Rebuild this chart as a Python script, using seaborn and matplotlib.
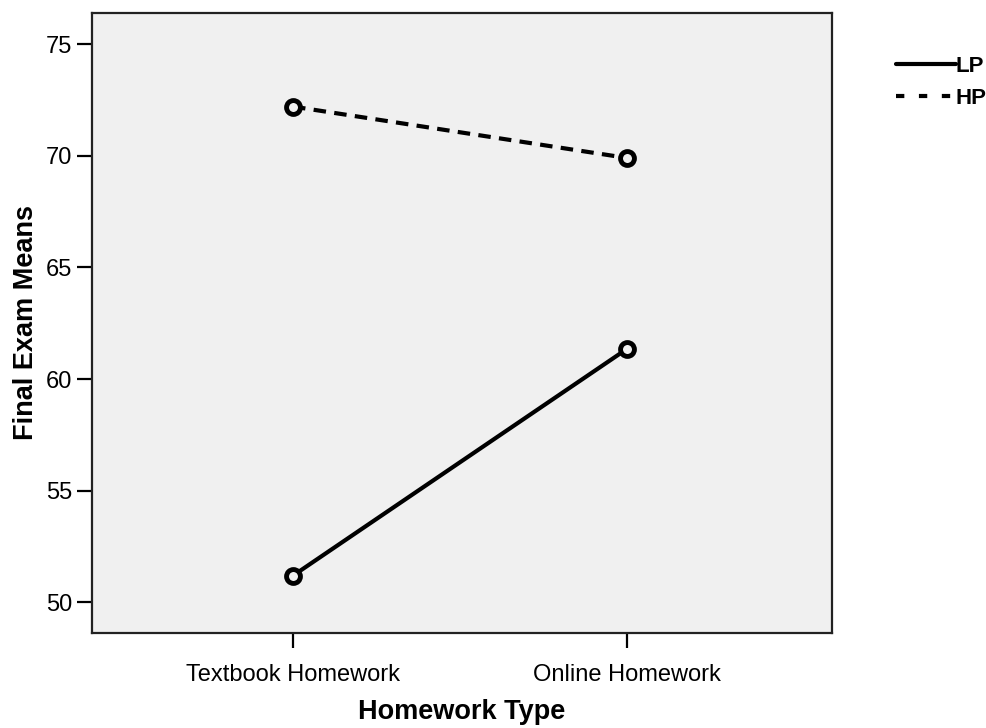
import matplotlib
matplotlib.use("Agg")
import matplotlib.pyplot as plt
from matplotlib.lines import Line2D
import seaborn as sns
import pandas as pd

categories = ["Textbook Homework", "Online Homework"]
groups = ["LP", "HP"]
lp_means = [51.2, 61.35]
hp_means = [72.2, 69.9]

df = pd.DataFrame({
    "Homework Type": categories * 2,
    "Final Exam Means": lp_means + hp_means,
    "Group": [groups[0]] * 2 + [groups[1]] * 2,
})

sns.set_theme(style="ticks")
plt.rcParams["font.family"] = ["Liberation Sans", "DejaVu Sans"]
plt.rcParams["text.color"] = "black"
plt.rcParams["axes.labelcolor"] = "black"

fig = plt.figure(figsize=(9.87, 7.28), dpi=100)
ax = fig.add_axes([92 / 987, 1 - 633 / 728, (832 - 92) / 987, (633 - 13) / 728])
ax.set_facecolor("#F0F0F0")

sns.lineplot(
    data=df, x="Homework Type", y="Final Exam Means",
    hue="Group", style="Group",
    palette={"LP": "black", "HP": "black"},
    dashes={"LP": "", "HP": (3, 2)},
    markers={"LP": "o", "HP": "o"},
    markersize=10, markeredgewidth=3.5, markerfacecolor="#F0F0F0",
    markeredgecolor="black",
    linewidth=3, legend=False, ax=ax,
)

ax.set_xlim(-0.602, 1.614)
ax.set_ylim(48.63, 76.39)
ax.set_yticks([50, 55, 60, 65, 70, 75])
ax.tick_params(axis="both", direction="out", length=11, width=1.6,
               labelsize=17, colors="black")
ax.tick_params(axis="x", pad=11)
ax.tick_params(axis="y", pad=3)
for s in ax.spines.values():
    s.set_visible(True)
    s.set_linewidth(1.6)
    s.set_color("#222222")

ax.set_xlabel("Homework Type", fontsize=19.5, fontweight="bold", labelpad=10,
              color="black")
ax.set_ylabel("Final Exam Means", fontsize=19.5, fontweight="bold", labelpad=5,
              color="black")

handles = [
    Line2D([0], [0], color="black", lw=3),
    Line2D([0], [0], color="black", lw=3, dashes=(2, 3.5)),
]
leg = fig.legend(handles, groups, loc="upper left",
                 bbox_to_anchor=(896 / 987, 1 - 56 / 728),
                 frameon=False, borderpad=0, borderaxespad=0,
                 handlelength=2.7, handletextpad=0.0, labelspacing=0.5,
                 prop={"size": 16, "weight": "bold"})
for t in leg.get_texts():
    t.set_color("black")

fig.savefig("out.png", dpi=100)
